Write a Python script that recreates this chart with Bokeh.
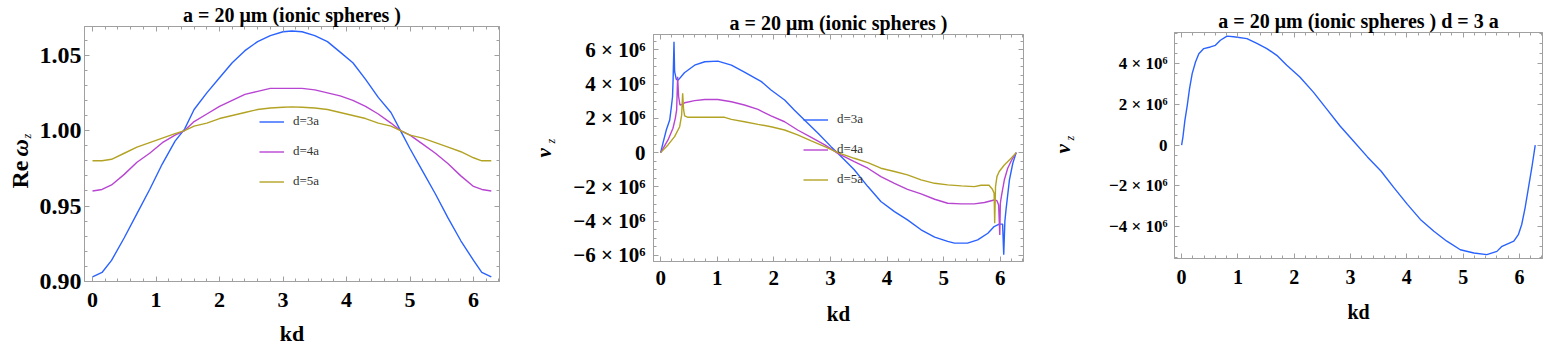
from math import pi
from bokeh.plotting import figure
from bokeh.layouts import row
from bokeh.core.properties import value
from bokeh.models import (Range1d, FixedTicker, LinearAxis, CustomJSTickFormatter,
                          Legend, LegendItem)
from bokeh.embed import file_html
from bokeh.resources import INLINE

# ---------------- data ----------------
# panel 1 : Re omega_z vs kd
kd1 = [0, 0.15, 0.3, 0.5, 0.7, 0.9, 1.1, 1.3, 1.45, 1.6, 1.8, 2.0, 2.2, 2.4, 2.6, 2.8, 3.0, 3.14,
       3.3, 3.5, 3.7, 3.9, 4.1, 4.3, 4.5, 4.7, 4.85, 5.0, 5.2, 5.4, 5.6, 5.8, 6.0, 6.13, 6.28]
re_d3 = [0.903, 0.906, 0.914, 0.929, 0.945, 0.961, 0.978, 0.993, 1.001, 1.014, 1.025, 1.035, 1.045,
         1.053, 1.059, 1.063, 1.0655, 1.066, 1.0655, 1.063, 1.059, 1.052, 1.045, 1.034, 1.022, 1.012,
         1.000, 0.988, 0.973, 0.958, 0.942, 0.927, 0.914, 0.906, 0.903]
re_d4 = [0.960, 0.961, 0.964, 0.971, 0.979, 0.985, 0.992, 0.997, 1.000, 1.006, 1.011, 1.016, 1.020,
         1.024, 1.026, 1.028, 1.028, 1.028, 1.028, 1.027, 1.025, 1.023, 1.020, 1.016, 1.011, 1.005,
         1.000, 0.997, 0.991, 0.985, 0.978, 0.970, 0.963, 0.961, 0.960]
re_d5 = [0.980, 0.980, 0.981, 0.985, 0.989, 0.992, 0.995, 0.998, 1.000, 1.003, 1.005, 1.008, 1.010,
         1.012, 1.014, 1.015, 1.0155, 1.0157, 1.0155, 1.015, 1.014, 1.012, 1.010, 1.008, 1.005, 1.003,
         1.000, 0.997, 0.995, 0.992, 0.989, 0.986, 0.982, 0.980, 0.980]

# panel 2 : v_z (units of 1e6) vs kd
kd2_d3 = [0.0, 0.04, 0.10, 0.16, 0.19, 0.21, 0.22, 0.236, 0.247, 0.277, 0.31, 0.42, 0.6, 0.78, 1.01,
          1.25, 1.48, 1.78, 1.95, 2.19, 2.36, 2.54, 2.78, 3.01, 3.13, 3.42, 3.66, 3.89, 4.13, 4.36,
          4.6, 4.84, 5.07, 5.19, 5.42, 5.6, 5.78, 5.89, 5.98, 6.04, 6.06, 6.08, 6.1, 6.16, 6.22, 6.28]
vz2_d3 = [0, 0.54, 1.32, 1.9, 2.68, 3.26, 4.23, 6.47, 4.72, 4.27, 4.23, 4.66, 5.1, 5.3, 5.34, 5.1,
          4.7, 4.14, 3.65, 3.07, 2.49, 1.9, 1.13, 0.35, -0.04, -1.0, -1.98, -2.85, -3.44, -3.92,
          -4.5, -4.93, -5.18, -5.28, -5.28, -5.09, -4.7, -4.31, -4.17, -4.17, -5.95, -4.0, -3.34,
          -1.6, -0.62, 0]
kd2_d4 = [0.0, 0.13, 0.218, 0.259, 0.283, 0.30, 0.318, 0.341, 0.394, 0.424, 0.6, 0.78, 1.01, 1.25,
          1.48, 1.72, 1.95, 2.19, 2.42, 2.66, 2.9, 3.13, 3.42, 3.66, 3.89, 4.13, 4.36, 4.6, 4.84,
          5.07, 5.31, 5.54, 5.72, 5.89, 5.94, 5.97, 5.99, 6.0, 6.02, 6.07, 6.13, 6.2, 6.28]
vz2_d4 = [0, 0.74, 1.42, 2.0, 2.49, 4.43, 3.26, 2.78, 2.83, 2.91, 3.03, 3.1, 3.1, 2.97, 2.78, 2.52,
          2.14, 1.8, 1.32, 0.89, 0.45, -0.04, -0.52, -0.91, -1.4, -1.79, -2.14, -2.41, -2.72, -2.95,
          -2.99, -2.99, -2.91, -2.76, -2.8, -3.05, -4.8, -2.95, -2.52, -1.6, -0.91, -0.43, 0]
kd2_d5 = [0.0, 0.13, 0.247, 0.336, 0.371, 0.389, 0.406, 0.424, 0.483, 0.78, 1.13, 1.25, 1.48, 1.72,
          1.95, 2.19, 2.42, 2.66, 2.9, 3.13, 3.42, 3.66, 3.89, 4.13, 4.36, 4.6, 4.84, 5.07, 5.31,
          5.54, 5.66, 5.8, 5.86, 5.89, 5.90, 5.915, 5.94, 5.98, 6.07, 6.19, 6.28]
vz2_d5 = [0, 0.45, 0.93, 1.51, 2.19, 3.46, 2.49, 2.14, 2.06, 2.06, 2.06, 1.94, 1.8, 1.65, 1.51, 1.32,
          1.03, 0.68, 0.35, 0, -0.33, -0.58, -0.91, -1.1, -1.3, -1.59, -1.79, -1.88, -1.94, -1.98,
          -1.9, -1.9, -2.14, -2.37, -4.12, -1.98, -1.4, -1.1, -0.72, -0.33, 0]

# panel 3 : v_z (units of 1e6) vs kd, d = 3a
kd3 = [0.0, 0.023, 0.058, 0.10, 0.141, 0.188, 0.247, 0.306, 0.394, 0.512, 0.6, 0.689, 0.807, 0.925,
       1.16, 1.337, 1.514, 1.69, 1.868, 2.1, 2.34, 2.575, 2.81, 3.047, 3.3, 3.54, 3.77, 4.01, 4.24,
       4.48, 4.71, 4.95, 5.19, 5.42, 5.6, 5.69, 5.78, 5.9, 5.98, 6.04, 6.1, 6.16, 6.22, 6.28]
vz3 = [0, 0.38, 1.2, 1.94, 2.77, 3.51, 4.08, 4.49, 4.74, 4.82, 4.9, 5.15, 5.35, 5.32, 5.23, 4.99,
       4.74, 4.41, 3.92, 3.34, 2.6, 1.78, 0.95, 0.21, -0.58, -1.27, -2.09, -2.91, -3.65, -4.23,
       -4.72, -5.14, -5.3, -5.38, -5.22, -4.97, -4.86, -4.72, -4.4, -3.9, -3.08, -2.09, -1.1, 0]
V_UNIT = 1e6

legend_labels = ["d=3a", "d=4a", "d=5a"]
titles = ["a = 20 \u03bcm (ionic spheres )", "a = 20 \u03bcm (ionic spheres )",
          "a = 20 \u03bcm (ionic spheres ) d = 3 a"]

x_ticks = [0, 1, 2, 3, 4, 5, 6]
x_labels = ["0", "1", "2", "3", "4", "5", "6"]
y1_ticks = [0.90, 0.95, 1.00, 1.05]
y1_labels = ["0.90", "0.95", "1.00", "1.05"]
y2_ticks = [-6e6, -4e6, -2e6, 0, 2e6, 4e6, 6e6]
y2_labels = ["\u22126 \u00d7 10\u2076", "\u22124 \u00d7 10\u2076", "\u22122 \u00d7 10\u2076", "0",
             "2 \u00d7 10\u2076", "4 \u00d7 10\u2076", "6 \u00d7 10\u2076"]
y3_ticks = [-4e6, -2e6, 0, 2e6, 4e6]
y3_labels = ["\u22124 \u00d7 10\u2076", "\u22122 \u00d7 10\u2076", "0",
             "2 \u00d7 10\u2076", "4 \u00d7 10\u2076"]

# ---------------- style ----------------
FONT = "Liberation Serif"
GRAY = "#a0a0a0"
BLUE = "#2a62ff"
MAG = "#b845d2"
OLIVE = "#b3a324"
LW = 1.4
H = 350

x_minor = [round(-0.2 + 0.2 * i, 2) for i in range(35)]


def fmt(ticks, labels):
    return CustomJSTickFormatter(args=dict(tv=list(ticks), tl=list(labels)),
                                 code="const i = tv.indexOf(tick); return i >= 0 ? tl[i] : '';")


def blank():
    return CustomJSTickFormatter(code="return '';")


def style_axis(ax, size, standoff):
    ax.axis_line_color = GRAY
    ax.major_tick_line_color = GRAY
    ax.minor_tick_line_color = GRAY
    ax.major_tick_in = 5
    ax.major_tick_out = 0
    ax.minor_tick_in = 3
    ax.minor_tick_out = 0
    ax.major_label_text_font = FONT
    ax.major_label_text_font_style = "bold"
    ax.major_label_text_font_size = size
    ax.major_label_text_color = "black"
    ax.major_label_standoff = standoff


def make_fig(width, lb, rb, tb, bb, yr, title, yt, ylab, ymin, xsize, ysize,
             xstand, ystand, lstand, title_standoff):
    p = figure(width=width, height=H, x_range=Range1d(-0.126, 6.409), y_range=yr,
               output_backend="svg", toolbar_location=None,
               x_axis_location=None, y_axis_location=None, frame_align=False,
               min_border_left=lb, min_border_right=rb, min_border_top=tb, min_border_bottom=bb,
               title=title)
    p.grid.visible = False
    p.outline_line_color = GRAY
    p.title.align = "center"
    p.title.text_font = FONT
    p.title.text_font_style = "bold"
    p.title.text_font_size = "20px"
    p.title.text_color = "black"
    p.title.standoff = title_standoff

    xt = FixedTicker(ticks=x_ticks, minor_ticks=x_minor)
    ytk = FixedTicker(ticks=yt, minor_ticks=ymin)

    bottom = LinearAxis(ticker=xt, formatter=fmt(x_ticks, x_labels), axis_label="kd")
    style_axis(bottom, xsize, xstand)
    bottom.axis_label_text_font = FONT
    bottom.axis_label_text_font_style = "bold"
    bottom.axis_label_text_font_size = xsize
    bottom.axis_label_text_color = "black"
    bottom.axis_label_standoff = lstand
    p.add_layout(bottom, "below")

    left = LinearAxis(ticker=ytk, formatter=fmt(yt, ylab))
    style_axis(left, ysize, ystand)
    p.add_layout(left, "left")

    top = LinearAxis(ticker=FixedTicker(ticks=x_ticks, minor_ticks=x_minor), formatter=blank())
    style_axis(top, "0px", 0)
    p.add_layout(top, "above")
    right = LinearAxis(ticker=FixedTicker(ticks=yt, minor_ticks=ymin), formatter=blank())
    style_axis(right, "0px", 0)
    p.add_layout(right, "right")
    return p


def add_legend(p, renderers, loc):
    items = [LegendItem(label=lab, renderers=[r]) for lab, r in zip(legend_labels, renderers)]
    lg = Legend(items=items, location=loc, orientation="vertical", glyph_width=25,
                glyph_height=15, label_height=15, spacing=14, padding=0, margin=0,
                label_standoff=9, label_text_font=FONT, label_text_font_size="13px",
                label_text_color="#333333", border_line_color=None,
                background_fill_alpha=0)
    p.add_layout(lg)


def label_fig(width, parts):
    # narrow strip holding a rotated y-axis label made of several text runs
    p = figure(width=width, height=H, x_range=Range1d(0, width), y_range=Range1d(0, H),
               output_backend="svg", toolbar_location=None, min_border=0,
               x_axis_location=None, y_axis_location=None, frame_align=False)
    p.outline_line_color = None
    p.grid.visible = False
    for text, x, y, size, style in parts:
        p.text(x=[x], y=[y], text=[text], angle=pi / 2, text_align="left",
               text_baseline="middle", text_font=value(FONT), text_font_size=value(size),
               text_font_style=style, text_color="black")
    return p


# ---- panel 1
y1_minor = [round(0.89 + 0.01 * i, 3) for i in range(19)]
p1 = make_fig(494, 47, 31, 25, 69, Range1d(0.90, 1.069), titles[0], y1_ticks, y1_labels,
              y1_minor, "22px", "24px", 11, 3, 11, 2)
r1 = p1.line(kd1, re_d3, line_color=BLUE, line_width=LW)
r2 = p1.line(kd1, re_d4, line_color=MAG, line_width=LW)
r3 = p1.line(kd1, re_d5, line_color=OLIVE, line_width=LW)
add_legend(p1, [r1, r2, r3], (175, 92))
lab1 = label_fig(36, [("Re", 19, 162, "24px", "bold"), ("\u03c9", 19, 194, "24px", "bold italic"),
                      ("z", 26, 212, "12px", "italic")])

# ---- panel 2
y2_minor = [-7e6 + 5e5 * i for i in range(29)]
p2 = make_fig(485, 88, 27, 34, 89, Range1d(-6.35e6, 6.89e6), titles[1], y2_ticks, y2_labels,
              y2_minor, "21px", "21px", 9, 8, 14, 2)
s1 = p2.line(kd2_d3, [v * V_UNIT for v in vz2_d3], line_color=BLUE, line_width=LW)
s2 = p2.line(kd2_d4, [v * V_UNIT for v in vz2_d4], line_color=MAG, line_width=LW)
s3 = p2.line(kd2_d5, [v * V_UNIT for v in vz2_d5], line_color=OLIVE, line_width=LW)
add_legend(p2, [s1, s2, s3], (150, 74))
lab2 = label_fig(35, [("\u03bd", 13, 193, "21px", "bold italic"), ("z", 20, 207, "12px", "italic")])

# ---- panel 3
y3_minor = [-6e6 + 5e5 * i for i in range(25)]
p3 = make_fig(465, 94, 3, 32, 92, Range1d(-5.57e6, 5.53e6), titles[2], y3_ticks, y3_labels,
              y3_minor, "20px", "17px", 11, 7, 14, 2)
p3.line(kd3, [v * V_UNIT for v in vz3], line_color=BLUE, line_width=LW)
lab3 = label_fig(30, [("\u03bd", 12, 197, "21px", "bold italic"), ("z", 19, 210, "12px", "italic")])

layout = row(lab1, p1, lab2, p2, lab3, p3, spacing=0)
open("out.html", "w").write(file_html(layout, INLINE))
